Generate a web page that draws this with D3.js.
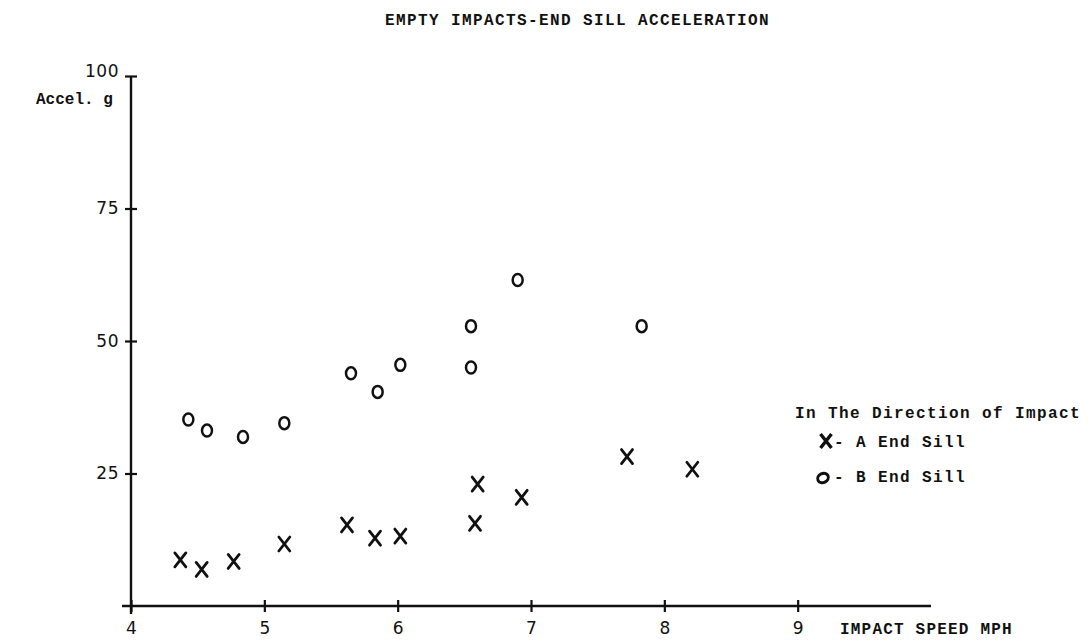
<!DOCTYPE html>
<html>
<head>
<meta charset="utf-8">
<script src="https://cdn.jsdelivr.net/npm/d3@7"></script>
<style>
  html, body { margin: 0; padding: 0; background: #fff; }
  svg { display: block; }
  .tw { font-family: "Liberation Mono", "DejaVu Sans Mono", monospace; fill: #111; }
  .hand { font-family: "DejaVu Sans", sans-serif; fill: #111; }
</style>
</head>
<body>
<svg id="chart" width="1092" height="642"></svg>
<script>
// ---- data ----
const speedA = [4.37, 4.53, 4.77, 5.15, 5.62, 5.83, 6.02, 6.58, 6.60, 6.93, 7.72, 8.21];
const accelA = [8.7, 6.9, 8.4, 11.7, 15.3, 12.8, 13.2, 15.6, 23.0, 20.5, 28.2, 25.8];
const speedB = [4.43, 4.57, 4.84, 5.15, 5.65, 5.85, 6.02, 6.55, 6.55, 6.90, 7.83];
const accelB = [35.2, 33.1, 31.9, 34.5, 43.9, 40.4, 45.5, 45.0, 52.8, 61.5, 52.8];
const xTicks = [4, 5, 6, 7, 8, 9];
const yTicks = [25, 50, 75, 100];
const titleText = "EMPTY IMPACTS-END SILL ACCELERATION";
const yLabelText = "Accel. g";
const xLabelText = "IMPACT SPEED MPH";
const legendTitle = "In The Direction of Impact";
const legendA = "- A End Sill";
const legendB = "- B End Sill";

const svg = d3.select("#chart");
const x = d3.scaleLinear().domain([4, 10]).range([131, 931]);
const y = d3.scaleLinear().domain([0, 100]).range([606, 76]);

// axes lines
svg.append("line").attr("x1", 122).attr("x2", x(10)).attr("y1", y(0)).attr("y2", y(0))
  .attr("stroke", "#111").attr("stroke-width", 2.4);
svg.append("line").attr("x1", x(4)).attr("x2", x(4)).attr("y1", y(100)).attr("y2", 614)
  .attr("stroke", "#111").attr("stroke-width", 2.4);

// x axis ticks & labels
const xAxis = d3.axisBottom(x).tickValues(xTicks).tickSize(0).tickPadding(16).tickFormat(d3.format("d"));
const gx = svg.append("g").attr("transform", `translate(0,${y(0)})`).call(xAxis);
gx.select(".domain").remove();
gx.attr("font-size", null).attr("font-family", null);
gx.selectAll(".tick").append("line").attr("y1", -6).attr("y2", 6)
  .attr("stroke", "#111").attr("stroke-width", 2.2);
gx.selectAll(".tick text").attr("class", "hand").style("font-size", "17px").attr("fill", "#111");
gx.selectAll(".tick").filter(d => d === 4).select("line").remove();

// y axis ticks & labels
const yAxis = d3.axisLeft(y).tickValues(yTicks).tickSize(0).tickPadding(12).tickFormat(d3.format("d"));
const gy = svg.append("g").attr("transform", `translate(${x(4)},0)`).call(yAxis);
gy.select(".domain").remove();
gy.attr("font-size", null).attr("font-family", null);
gy.selectAll(".tick").append("line").attr("x1", -6).attr("x2", 6)
  .attr("stroke", "#111").attr("stroke-width", 2.2);
gy.selectAll(".tick text").attr("class", "hand").style("font-size", "17px").attr("fill", "#111")
  .attr("letter-spacing", 0.5);
gy.selectAll(".tick").filter(d => d === 100).select("text").attr("dy", "0.05em");

// titles
svg.append("text").attr("class", "tw").attr("x", 385).attr("y", 25)
  .attr("font-size", 16).attr("letter-spacing", 1.4).attr("font-weight", "bold").text(titleText);
svg.append("text").attr("class", "tw").attr("x", 36).attr("y", 104)
  .attr("font-size", 16).attr("font-weight", "bold").text(yLabelText);
svg.append("text").attr("class", "tw").attr("x", 840).attr("y", 634)
  .attr("font-size", 16).attr("letter-spacing", 1.2).attr("font-weight", "bold").text(xLabelText);

// markers
const xPath = "M-5.5,-7L5.5,7M5.5,-7L-5.5,7";
svg.append("g").selectAll("path").data(speedA.map((s, i) => [s, accelA[i]])).join("path")
  .attr("transform", d => `translate(${x(d[0])},${y(d[1])})`)
  .attr("d", xPath).attr("fill", "none").attr("stroke", "#111").attr("stroke-width", 2.8)
  .attr("stroke-linecap", "round");
svg.append("g").selectAll("ellipse").data(speedB.map((s, i) => [s, accelB[i]])).join("ellipse")
  .attr("cx", d => x(d[0])).attr("cy", d => y(d[1]))
  .attr("rx", 5).attr("ry", 6)
  .attr("fill", "none").attr("stroke", "#111").attr("stroke-width", 2.5);

// legend
svg.append("text").attr("class", "tw").attr("x", 795).attr("y", 418)
  .attr("font-size", 16).attr("letter-spacing", 1.4).attr("font-weight", "bold").text(legendTitle);
svg.append("path").attr("transform", "translate(826,441)").attr("d", xPath)
  .attr("fill", "none").attr("stroke", "#111").attr("stroke-width", 3.4);
svg.append("text").attr("class", "tw").attr("x", 834).attr("y", 447)
  .attr("font-size", 16).attr("letter-spacing", 1.4).attr("font-weight", "bold").text(legendA);
svg.append("ellipse").attr("cx", 823).attr("cy", 478).attr("rx", 5.5).attr("ry", 4.5)
  .attr("transform", "rotate(-25,823,478)")
  .attr("fill", "none").attr("stroke", "#111").attr("stroke-width", 3);
svg.append("text").attr("class", "tw").attr("x", 834).attr("y", 482)
  .attr("font-size", 16).attr("letter-spacing", 1.4).attr("font-weight", "bold").text(legendB);
</script>
</body>
</html>
